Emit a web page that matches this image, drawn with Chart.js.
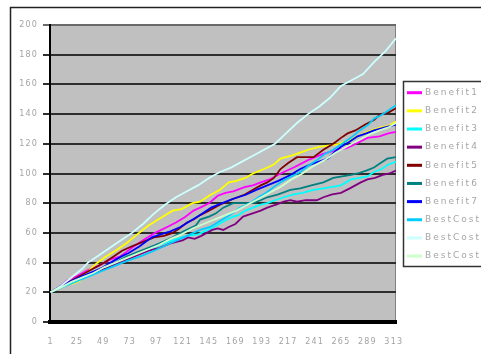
<!DOCTYPE html>
<html>
<head>
<meta charset="utf-8">
<script src="https://cdn.jsdelivr.net/npm/chart.js@4/dist/chart.umd.min.js"></script>
<style>
  html, body { margin: 0; padding: 0; background: #ffffff; }
  #wrap { width: 481px; height: 354px; }
</style>
</head>
<body>
<div id="wrap"><canvas id="c" width="481" height="354"></canvas></div>
<script>
// Category axis: runs 1..315, labelled every 24 steps
const xTickLabels = [1, 25, 49, 73, 97, 121, 145, 169, 193, 217, 241, 265, 289, 313];
const lastCategory = 315;
const yTickLabels = [0, 20, 40, 60, 80, 100, 120, 140, 160, 180, 200];

const seriesNames = ['Benefit1', 'Benefit2', 'Benefit3', 'Benefit4', 'Benefit5',
                     'Benefit6', 'Benefit7', 'BestCost1', 'BestCost2', 'BestCost3'];

// [category, value] readings for each series
const benefit1 = [[1,20],[10,24],[16,28],[25,31],[35,35],[45,38],[55,42],[64,44],[75,50],[85,55],[96,60],[107,64],[115,67],[123,70.5],[131,75],[137,77],[145,80],[153,85],[160,87],[167,88],[178,91],[185,92],[192,94],[200,96],[213,101],[222,104],[235,109],[248,113],[262,116],[270,117],[276,119],[289,124],[300,125],[308,127],[315,128]];
const benefit2 = [[1,20],[8,23],[15,25],[22,26],[28,28],[35,34],[42,39],[51,44],[60,48],[70,53],[78,58],[90,65],[101,70],[112,75],[120,76],[130,80],[137,81],[145,85],[155,89],[163,94],[170,95],[178,97],[185,100],[195,103],[204,106],[210,110],[220,112],[228,114],[235,116],[245,118],[255,119],[263,120],[271,122],[280,125],[289,128],[301,131],[308,132],[315,135]];
const benefit3 = [[1,20],[8,23],[18,26],[28,29],[38,32],[48,35],[58,38],[65,42],[72,44],[82,46],[92,49],[101,52],[112,55],[120,57],[126,58],[135,59],[144,62],[152,65],[160,68.5],[167,71],[172,72],[178,75],[185,77],[192,79],[198,80],[205,82],[213,84],[222,86],[230,87],[240,89],[249,90],[257,91],[265,92],[274,96],[282,97],[289,98],[295,101],[302,103],[308,106],[315,108]];
const benefit4 = [[1,20],[10,23],[20,27],[30,30],[40,33],[50,36],[60,39],[70,42],[80,45],[90,48],[100,50],[110,53],[121,55],[126,57],[132,56],[138,58],[143,60],[148,62],[153,63],[158,62],[163,64],[169,66],[176,71],[184,73],[192,75],[198,77],[206,79],[213,81],[219,82],[225,81],[233,82],[243,82],[249,84],[257,86],[265,87],[273,90],[283,94],[289,96],[296,97],[303,99],[309,100],[315,102]];
const benefit5 = [[1,20],[10,24],[20,28],[30,32],[40,36],[50,40],[58,44],[66,48],[75,51],[85,54],[95,57],[104,58],[112,60],[118,63],[125,67],[131,69],[137,72],[145,75],[155,79],[164,82],[171,84],[178,86],[185,89],[192,92],[198,94],[204,97],[210,103],[217,107],[225,111],[232,111],[240,111],[249,116],[258,120],[265,124],[271,127],[278,129],[287,133],[295,136],[301,140],[308,141],[315,144]];
const benefit6 = [[1,20],[10,23],[20,27],[30,30],[40,33],[50,37],[60,40],[70,44],[80,47],[90,50],[100,53],[112,57],[122,61],[133,65],[137,69],[145,71],[151,73],[158,77],[167,80],[175,80],[185,80],[192,82],[198,84],[208,86],[219,89],[228,90],[238,92],[249,94],[258,97],[266,98],[274,99],[280,100],[288,102],[295,104],[301,107],[307,110],[315,111]];
const benefit7 = [[1,20],[10,24],[20,27.5],[30,31],[40,34],[48,36.5],[58,41],[65,44],[72,46.5],[82,51],[93,57],[101,59],[110,61],[119,64],[128,68],[137,72],[147,77],[157,80],[167,83],[178,85.5],[188,89],[198,92],[208,95],[219,99],[228,103],[237,106],[245,108],[253,110],[260,115],[265,118],[272,121],[280,125],[288,127],[295,129],[305,131],[315,133]];
const bestCost1 = [[1,20],[10,23],[20,26],[30,29],[40,32],[50,35],[60,38],[70,41],[82,44],[92,47],[101,50],[110,53],[119,56],[128,59],[137,62],[146,64],[155,68],[164,72],[173,77],[182,80],[190,84],[197,87],[204,91],[212,95],[220,98],[228,101],[235,105],[243,109],[250,113],[258,116],[266,120],[274,124],[282,129],[290,133],[295,137],[301,139],[307,142],[311,144],[315,146]];
const bestCost2 = [[1,20],[10,24],[20,30],[30,36],[35,40],[45,45],[55,50],[65,55],[75,60],[85,66],[95,73],[105,79],[115,84],[125,88],[135,92],[145,97],[155,101],[165,104],[175,108],[185,112],[195,116],[205,120],[215,127],[225,134],[235,140],[245,145],[255,151],[265,159],[275,163],[285,167],[295,175],[305,182],[315,191]];
const bestCost3 = [[1,20],[10,23],[20,27],[30,30],[40,33],[50,37],[60,40],[70,43],[80,46],[90,49],[100,52],[110,56],[120,59],[130,63],[140,66],[150,69],[160,72],[170,75],[180,79],[190,83],[200,87],[210,91],[220,96],[230,100],[240,105],[250,109],[260,114],[270,118],[280,122],[290,126],[300,129],[308,131],[315,134]];

const seriesValues = [benefit1, benefit2, benefit3, benefit4, benefit5,
                      benefit6, benefit7, bestCost1, bestCost2, bestCost3];
const seriesColors = ['#ff00ff', '#ffff00', '#00ffff', '#800080', '#800000',
                      '#008080', '#0000ff', '#00ccff', '#ccffff', '#ccffcc'];

const datasets = seriesNames.map((name, i) => ({
  label: name,
  data: seriesValues[i].map(([x, y]) => ({ x, y })),
  borderColor: seriesColors[i],
  backgroundColor: seriesColors[i],
  borderWidth: 1.8,
  pointRadius: 0,
  tension: 0,
  fill: false,
  order: -i            // later series paint over earlier ones
}));

// Chart frame, plot background and the boxed legend on the right
const framePlugin = {
  id: 'frame',
  beforeDraw(chart) {
    const { ctx, chartArea: a } = chart;
    ctx.save();
    ctx.fillStyle = '#ffffff';
    ctx.fillRect(0, 0, chart.width, chart.height);
    ctx.strokeStyle = '#222222';
    ctx.lineWidth = 1.5;
    ctx.beginPath();
    ctx.moveTo(10.5, chart.height);
    ctx.lineTo(10.5, 7.5);
    ctx.lineTo(chart.width, 7.5);
    ctx.stroke();
    ctx.fillStyle = '#c0c0c0';
    ctx.fillRect(a.left, a.top, a.right - a.left, a.bottom - a.top);
    ctx.strokeStyle = '#808080';
    ctx.lineWidth = 1;
    ctx.strokeRect(a.left + 0.5, a.top + 0.5, a.right - a.left - 1, a.bottom - a.top);
    ctx.restore();
    ctx.letterSpacing = '1.2px';
  },
  afterDraw(chart) {
    const ctx = chart.ctx;
    ctx.save();
    ctx.letterSpacing = '2px';
    ctx.fillStyle = '#ffffff';
    ctx.fillRect(403, 81, 100, 186);
    ctx.strokeStyle = '#333333';
    ctx.lineWidth = 1.5;
    ctx.strokeRect(403.5, 81.5, 100, 185);
    ctx.font = '9px "DejaVu Sans"';
    ctx.textBaseline = 'middle';
    ctx.textAlign = 'left';
    chart.data.datasets.forEach((ds, i) => {
      const y = 92.7 + i * 18.15;
      ctx.strokeStyle = ds.borderColor;
      ctx.lineWidth = 3;
      ctx.beginPath();
      ctx.moveTo(407, y);
      ctx.lineTo(422, y);
      ctx.stroke();
      ctx.fillStyle = '#a6a6a6';
      ctx.fillText(ds.label, 425, y);
    });
    ctx.restore();
  }
};

new Chart(document.getElementById('c'), {
  type: 'line',
  data: { datasets },
  options: {
    responsive: false,
    devicePixelRatio: 1,
    animation: false,
    layout: { padding: { left: 0, top: 25, right: 85, bottom: 0 } },
    plugins: { legend: { display: false }, tooltip: { enabled: false } },
    scales: {
      x: {
        type: 'linear',
        bounds: 'data',
        min: 0.5,
        max: lastCategory,
        afterBuildTicks(scale) {
          scale.ticks = xTickLabels.map(v => ({ value: v }));
        },
        afterFit(scale) { scale.height = 32; },
        grid: { display: false, drawTicks: false },
        border: { display: true, color: '#000000', width: 4 },
        ticks: {
          autoSkip: false,
          maxRotation: 0,
          padding: 15,
          color: '#a3a3a3',
          font: { family: 'DejaVu Sans', size: 8 },
          callback: v => String(v)
        }
      },
      y: {
        min: 0,
        max: 200,
        afterBuildTicks(scale) {
          scale.ticks = yTickLabels.map(v => ({ value: v }));
        },
        afterFit(scale) { scale.width = 50; },
        grid: {
          color: ctx => (ctx.tick && ctx.tick.value === 200 ? '#6a6a6a' : '#2e2e2e'),
          lineWidth: 2,
          drawTicks: true,
          tickLength: 7
        },
        border: { display: true, color: '#000000', width: 2 },
        ticks: {
          padding: 5,
          color: '#a3a3a3',
          font: { family: 'DejaVu Sans', size: 8 }
        }
      }
    }
  },
  plugins: [framePlugin]
});
</script>
</body>
</html>
